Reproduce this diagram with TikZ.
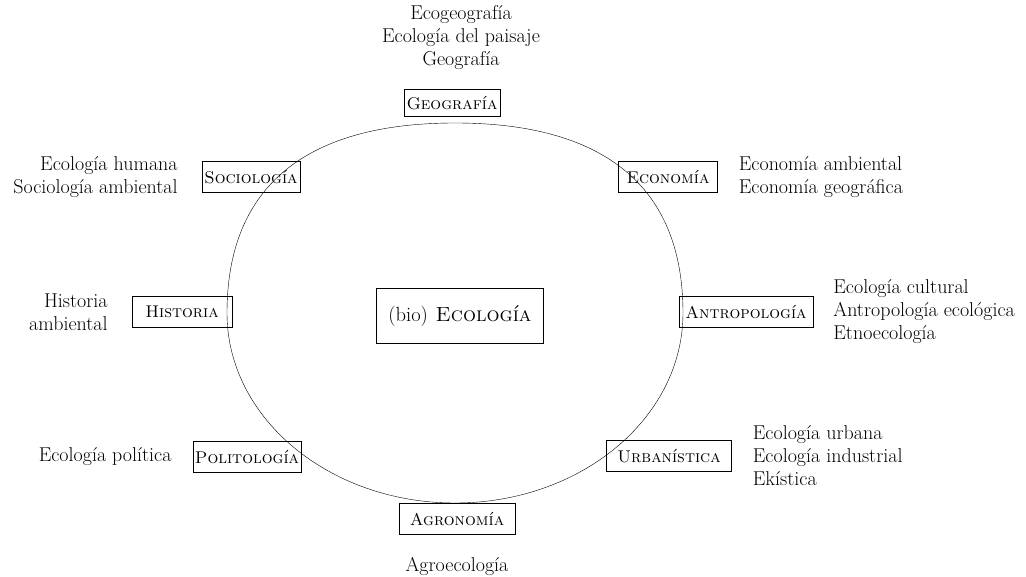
\documentclass[tikz,border=0pt]{standalone}
\usepackage{tikz}
\usetikzlibrary{positioning}
\tikzstyle{field}=[draw,thin,minimum height=31pt,inner xsep=2pt,font=\fontsize{17}{20}\selectfont\scshape]
\tikzstyle{lbl}=[align=center,inner sep=0pt]

\begin{document}
\begin{tikzpicture}[x=1pt,y=-1pt]
        \fontsize{20}{23}\selectfont
        \tikzset{node distance=21pt}
        \useasboundingbox (0,0) rectangle (1026,577);
        % the ring
        \coordinate (e) at (683,313);
        \coordinate (n) at (455,123);
        \coordinate (w) at (227,313);
        \coordinate (s) at (455,503);
        \draw[thin] (e) .. controls (683,188) and (606,123) .. (n)
                    .. controls (304,123) and (227,188) .. (w)
                    .. controls (227,418) and (329,503) .. (s)
                    .. controls (581,503) and (683,418) .. (e);
        % fields
        \node[field,minimum height=55pt,minimum width=167pt,font=\fontsize{20.5}{23}\selectfont\scshape] (bio) at (460,316) {{\upshape (bio)} Ecología};
        \node[field,minimum height=25pt,minimum width=96pt] (geo) at (452,103) {Geografía};
        \node[field,minimum width=98pt] (soc) at (251,177) {Sociología};
        \node[field,minimum width=99pt] (eco) at (668,177) {Economía};
        \node[field,minimum width=100pt] (his) at (182,312) {Historia};
        \node[field,minimum width=134pt] (ant) at (746,312) {Antropología};
        \node[field,minimum width=107pt] (pol) at (247,457) {Politología};
        \node[field,minimum width=125pt] (urb) at (669,456) {Urbanística};
        \node[field,minimum width=116pt] (agr) at (457,519) {Agronomía};
        % ecologies
        \node[lbl,above=20pt of geo,xshift=9pt] (geo-l) {Ecogeografía\\Ecología del paisaje\\Geografía};
        \node[lbl,left=24pt of soc,align=right] (soc-l) {Ecología humana\\Sociología ambiental};
        \node[lbl,right=of eco,align=left] (eco-l) {Economía ambiental\\Economía geográfica};
        \node[lbl,left=24pt of his,align=right] (his-l) {Historia\\ambiental};
        \node[lbl,right=20pt of ant,align=left] (ant-l) {Ecología cultural\\Antropología ecológica\\Etnoecología};
        \node[lbl,left=of pol,align=right] (pol-l) {Ecología política};
        \node[lbl,right=of urb,align=left] (urb-l) {Ecología urbana\\Ecología industrial\\Ekística};
        \node[lbl,below=22pt of agr] (agr-l) {Agroecología};
      \end{tikzpicture}
\end{document}
